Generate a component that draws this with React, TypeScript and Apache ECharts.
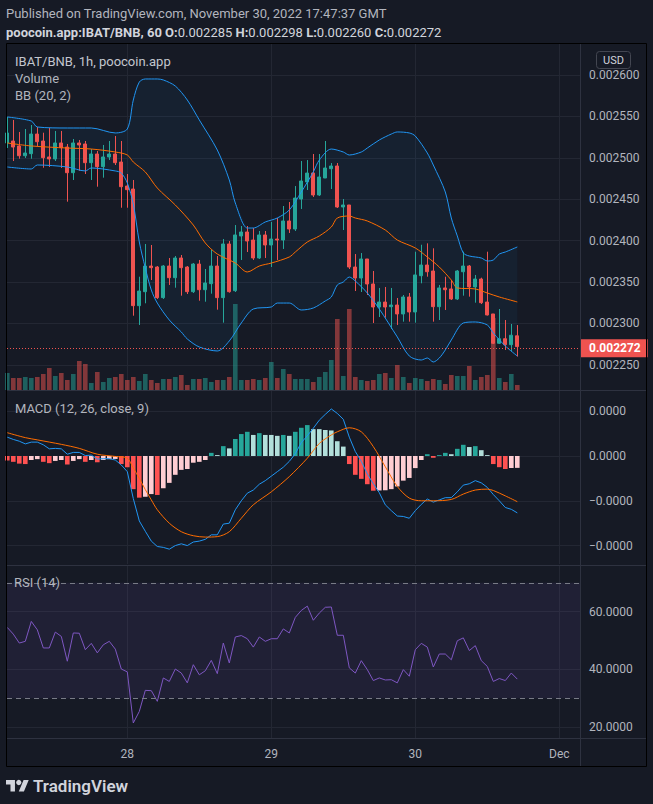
import React, { useEffect, useRef } from "react";
import * as echarts from "echarts";

// x = hours since Nov 27 00:00; the first candle is Nov 27 04:00 (1h candles)
const START_HOUR = 4;
const dayTicks = [24, 48, 72, 96];
const dayLabels = ["28", "29", "30", "Dec"];

// IBAT/BNB prices, in units of 0.001 BNB
const open = [2.5179, 2.5203, 2.5143, 2.5025, 2.505, 2.5287, 2.5203, 2.501, 2.4986, 2.5179,
  2.513, 2.482, 2.5179, 2.5167, 2.4941, 2.5046, 2.4893, 2.501, 2.5046, 2.4949,
  2.4659, 2.4623, 2.3214, 2.3383, 2.3693, 2.3681, 2.3311, 2.3693, 2.3552, 2.379,
  2.3681, 2.3383, 2.3717, 2.3407, 2.348, 2.3693, 2.3311, 2.3959, 2.3395, 2.4056,
  2.4104, 2.4007, 2.379, 2.4068, 2.3947, 2.4019, 2.4007, 2.4237, 2.414, 2.4502,
  2.4708, 2.4816, 2.4551, 2.4756, 2.4868, 2.4901, 2.4406, 2.443, 2.3681, 2.3548,
  2.3778, 2.3476, 2.3198, 2.3258, 2.3202, 2.3222, 2.3114, 2.3319, 2.3138, 2.3576,
  2.3705, 2.3633, 2.3202, 2.3428, 2.3416, 2.3295, 2.3624, 2.3693, 2.344, 2.3536,
  2.3258, 2.3114, 2.276, 2.2815, 2.2743, 2.285];
const high = [2.5493, 2.5457, 2.5312, 2.5348, 2.5396, 2.5372, 2.5303, 2.536, 2.5324, 2.5324,
  2.5167, 2.5227, 2.5215, 2.5203, 2.5106, 2.5082, 2.5155, 2.5203, 2.5263, 2.5203,
  2.4804, 2.4732, 2.3564, 2.3959, 2.3947, 2.3693, 2.3705, 2.379, 2.3814, 2.3826,
  2.3693, 2.3729, 2.3766, 2.3657, 2.3887, 2.3814, 2.4019, 2.3995, 2.4188, 2.4176,
  2.4176, 2.4152, 2.4116, 2.4116, 2.4225, 2.4273, 2.4418, 2.4466, 2.4659, 2.4961,
  2.4973, 2.5046, 2.5046, 2.5203, 2.4937, 2.4937, 2.4502, 2.443, 2.3838, 2.385,
  2.3778, 2.3633, 2.3428, 2.344, 2.3428, 2.3307, 2.3343, 2.3367, 2.3866, 2.395,
  2.3967, 2.3907, 2.3464, 2.3564, 2.3524, 2.3645, 2.3866, 2.3705, 2.3585, 2.3552,
  2.3866, 2.3114, 2.3174, 2.3041, 2.2993, 2.298];
const low = [2.5118, 2.4961, 2.4989, 2.4998, 2.4989, 2.5143, 2.488, 2.4889, 2.4961, 2.4877,
  2.447, 2.4732, 2.4844, 2.4804, 2.4732, 2.4651, 2.476, 2.4973, 2.4913, 2.4397,
  2.4397, 2.3093, 2.2981, 2.3243, 2.3524, 2.3295, 2.3295, 2.3464, 2.3431, 2.3335,
  2.3355, 2.3367, 2.3274, 2.3262, 2.3359, 2.3166, 2.3009, 2.3371, 2.3379, 2.3766,
  2.3862, 2.3766, 2.3778, 2.379, 2.3681, 2.3766, 2.3899, 2.4092, 2.4116, 2.4382,
  2.4611, 2.4527, 2.4539, 2.4756, 2.4623, 2.4394, 2.4128, 2.3657, 2.3391, 2.3379,
  2.3343, 2.3005, 2.3077, 2.3069, 2.2932, 2.2981, 2.3021, 2.3021, 2.3009, 2.3484,
  2.3564, 2.3021, 2.3041, 2.3162, 2.3283, 2.3283, 2.3335, 2.3323, 2.325, 2.3234,
  2.3096, 2.2751, 2.2751, 2.2679, 2.2667, 2.26];
const close = [2.53, 2.513, 2.5025, 2.5058, 2.5287, 2.5194, 2.5001, 2.4986, 2.5179, 2.5122,
  2.482, 2.5179, 2.5155, 2.4941, 2.5046, 2.4893, 2.501, 2.5046, 2.4941, 2.4651,
  2.4615, 2.3214, 2.3391, 2.3693, 2.3673, 2.3311, 2.3693, 2.3552, 2.379, 2.3673,
  2.3383, 2.3717, 2.3407, 2.3488, 2.3693, 2.3311, 2.3959, 2.3383, 2.4068, 2.4104,
  2.3995, 2.379, 2.4068, 2.3947, 2.4019, 2.4007, 2.4237, 2.414, 2.4514, 2.472,
  2.4816, 2.4551, 2.4768, 2.4877, 2.4901, 2.4406, 2.443, 2.3681, 2.3548, 2.3778,
  2.3476, 2.3198, 2.3258, 2.3198, 2.3222, 2.3114, 2.3319, 2.3138, 2.3585, 2.3705,
  2.3624, 2.3202, 2.3428, 2.3407, 2.3295, 2.3633, 2.3693, 2.344, 2.3536, 2.325,
  2.3102, 2.276, 2.2815, 2.2743, 2.2857, 2.272];

// volume, relative units
const volume = [17, 12, 12, 13, 12, 13, 16, 22, 14, 17, 10, 16, 29, 26, 7, 18, 8, 12, 13, 16,
  10, 13, 9, 16, 10, 7, 11, 11, 13, 15, 5, 11, 11, 12, 8, 10, 10, 13, 86, 10,
  10, 11, 10, 12, 28, 12, 21, 16, 11, 11, 11, 8, 13, 18, 30, 71, 14, 81, 13, 10,
  9, 10, 16, 17, 12, 25, 13, 7, 12, 11, 9, 11, 10, 6, 15, 14, 14, 24, 10, 13,
  15, 72, 12, 8, 16, 5];

// Bollinger bands (20, 2): [candle index, price ×0.001]
const bbUpper: [number, number][] = [[0, 2.5493], [4, 2.5444], [5, 2.5372], [10, 2.536], [14, 2.536], [18, 2.53], [20, 2.5348],
  [21, 2.5698], [22, 2.5915], [23, 2.5952], [25, 2.5952], [26, 2.594], [28, 2.5867], [30, 2.5698], [32, 2.5457],
  [35, 2.5094], [37, 2.4732], [38, 2.4454], [40, 2.4152], [41, 2.4152], [43, 2.4225], [45, 2.4273], [47, 2.437],
  [49, 2.4587], [51, 2.4829], [52, 2.4973], [54, 2.5106], [56, 2.507], [57, 2.5034], [59, 2.507], [60, 2.5118],
  [62, 2.5215], [64, 2.5287], [65, 2.5312], [67, 2.53], [68, 2.5263], [70, 2.5058], [71, 2.4913], [73, 2.4587],
  [74, 2.4273], [75, 2.4056], [76, 2.385], [77, 2.3814], [79, 2.379], [80, 2.3754], [81, 2.3766], [82, 2.3838],
  [83, 2.3862], [85, 2.3923]];
const bbBasis: [number, number][] = [[0, 2.5179], [4, 2.5143], [10, 2.5118], [14, 2.5106], [18, 2.507], [20, 2.5034],
  [21, 2.4949], [23, 2.4829], [25, 2.4635], [28, 2.443], [31, 2.4188], [33, 2.3971], [35, 2.3838], [38, 2.3729],
  [40, 2.3621], [42, 2.3693], [44, 2.3729], [47, 2.3802], [48, 2.3862], [50, 2.3983], [52, 2.4056], [54, 2.4164],
  [55, 2.4273], [57, 2.4297], [58, 2.4273], [60, 2.4237], [63, 2.4128], [65, 2.4007], [68, 2.3911], [70, 2.3802],
  [72, 2.3681], [74, 2.3524], [75, 2.3428], [78, 2.3416], [80, 2.3367], [82, 2.3319], [85, 2.3259]];
const bbLower: [number, number][] = [[0, 2.4889], [4, 2.4865], [5, 2.4913], [10, 2.4889], [13, 2.4841], [14, 2.4877],
  [18, 2.4841], [19, 2.4816], [20, 2.4696], [21, 2.4442], [22, 2.3983], [23, 2.3669], [24, 2.3403], [25, 2.3246],
  [27, 2.3041], [29, 2.2896], [30, 2.2812], [32, 2.2715], [35, 2.2667], [37, 2.2788], [39, 2.3005], [41, 2.3174],
  [44, 2.3198], [45, 2.3246], [47, 2.3246], [49, 2.3162], [51, 2.3186], [53, 2.3271], [54, 2.3319], [55, 2.3464],
  [56, 2.35], [57, 2.356], [58, 2.3512], [60, 2.3367], [62, 2.3174], [65, 2.2836], [67, 2.2606], [69, 2.2558],
  [70, 2.2582], [71, 2.2534], [72, 2.2582], [73, 2.2679], [74, 2.28], [76, 2.3005], [78, 2.3017], [80, 2.2981],
  [81, 2.2884], [83, 2.2727], [85, 2.2606]];

// MACD (12, 26, close, 9), in units of 1e-5
const macdLine = [0.42, 0.37, 0.33, 0.27, 0.31, 0.31, 0.25, 0.16, 0.17, 0.16,
  0.04, 0.08, 0.08, 0.01, 0.02, -0.07, -0.06, -0.06, -0.09, -0.2,
  -0.35, -0.95, -1.45, -1.68, -1.9, -2.02, -2.04, -2.08, -2.0, -1.96,
  -2.0, -1.92, -1.9, -1.86, -1.76, -1.76, -1.52, -1.5, -1.2, -1.0,
  -0.83, -0.76, -0.63, -0.55, -0.45, -0.35, -0.25, -0.12, 0.05, 0.3,
  0.45, 0.62, 0.8, 0.93, 1.05, 0.95, 0.82, 0.42, 0.1, -0.12,
  -0.4, -0.62, -0.82, -1.09, -1.22, -1.34, -1.35, -1.39, -1.22, -1.08,
  -0.96, -1.03, -0.98, -0.93, -0.93, -0.8, -0.65, -0.62, -0.55, -0.6,
  -0.7, -0.86, -1.0, -1.15, -1.19, -1.27];
const macdSignal: [number, number][] = [[0, 0.52], [3, 0.41], [5, 0.36], [9, 0.26], [12, 0.17], [15, 0.04], [18, -0.01],
  [20, -0.05], [21, -0.27], [22, -0.5], [23, -0.75], [24, -0.98], [25, -1.2], [27, -1.5], [29, -1.69], [31, -1.78],
  [33, -1.81], [35, -1.8], [37, -1.69], [39, -1.39], [41, -1.09], [44, -0.8], [47, -0.46], [50, -0.05], [52, 0.28],
  [54, 0.47], [55, 0.54], [57, 0.63], [59, 0.54], [61, 0.21], [63, -0.24], [65, -0.68], [67, -0.94], [69, -1.0],
  [71, -1.0], [74, -0.97], [76, -0.85], [78, -0.76], [80, -0.74], [81, -0.77], [83, -0.89], [85, -1.02]];
const macdHist = [-0.1, -0.13, -0.17, -0.18, -0.09, -0.07, -0.13, -0.16, -0.11, -0.09,
  -0.19, -0.11, -0.07, -0.13, -0.09, -0.14, -0.09, -0.07, -0.065, -0.18,
  -0.25, -0.74, -0.93, -0.91, -0.85, -0.87, -0.72, -0.6, -0.42, -0.31,
  -0.29, -0.15, -0.13, -0.09, 0.07, 0.02, 0.22, 0.17, 0.38, 0.49,
  0.54, 0.47, 0.51, 0.47, 0.47, 0.45, 0.47, 0.45, 0.54, 0.63,
  0.69, 0.6, 0.6, 0.58, 0.57, 0.33, 0.21, -0.18, -0.42, -0.51,
  -0.63, -0.775, -0.77, -0.765, -0.74, -0.68, -0.55, -0.49, -0.27, -0.09,
  0.04, -0.04, 0.02, 0.07, 0.04, 0.16, 0.25, 0.2, 0.22, 0.13,
  0.02, -0.18, -0.25, -0.29, -0.27, -0.265];

// RSI (14)
const rsi = [54.5, 52.2, 49.1, 49.7, 56.6, 53.7, 47.4, 47.4, 52.9, 51.4,
  42.8, 52.6, 52.5, 46.8, 49.0, 45.7, 48.5, 49.7, 47.0, 40.1,
  39.1, 21.4, 25.4, 32.7, 32.6, 28.9, 37.0, 35.8, 40.1, 38.7,
  35.3, 41.6, 38.1, 39.5, 43.1, 38.5, 49.1, 42.2, 51.2, 51.7,
  50.6, 47.7, 51.2, 49.7, 50.6, 50.6, 54.0, 52.6, 58.0, 60.4,
  61.9, 57.0, 59.5, 61.5, 61.6, 51.8, 51.8, 40.5, 38.7, 43.0,
  39.9, 36.1, 37.0, 36.3, 36.4, 35.3, 39.9, 37.6, 46.8, 49.0,
  47.7, 40.8, 45.3, 45.3, 43.3, 49.9, 50.9, 46.5, 48.2, 43.0,
  41.0, 35.8, 36.8, 36.1, 38.7, 36.6];

const UP = "#26A69A";
const DOWN = "#EF5350";
const BLUE = "#2196F3";
const ORANGE = "#FF6D00";
const BG = "#161A25";
const GRID_LINE = "#232733";
const SEP = "#2E3240";
const LABEL = "#B2B5BE";
const FONT = "Roboto, 'Noto Sans', sans-serif";

const X_MIN = 3.95;
const X_MAX = 99.45;

const fmtPrice = (v: number) => (v / 1000).toFixed(6);

function xAxis(gridIndex: number, showLabels: boolean) {
  return {
    type: "value",
    gridIndex,
    min: X_MIN,
    max: X_MAX,
    minInterval: 24,
    maxInterval: 24,
    axisLine: { show: false },
    axisTick: { show: false },
    axisLabel: {
      show: showLabels,
      showMinLabel: false,
      showMaxLabel: false,
      color: LABEL,
      fontSize: 12,
      fontFamily: FONT,
      margin: 10,
      formatter: (v: number) => {
        const i = dayTicks.indexOf(Math.round(v));
        return i >= 0 ? dayLabels[i] : "";
      },
    },
    splitLine: { show: gridIndex !== 1, showMinLine: false, showMaxLine: false, lineStyle: { color: GRID_LINE, width: 1 } },
  };
}

function yAxis(gridIndex: number, min: number, max: number, step: number, fmt: (v: number) => string) {
  return {
    type: "value",
    gridIndex,
    position: "right",
    min,
    max,
    minInterval: step,
    maxInterval: step,
    axisLine: { show: false },
    axisTick: { show: false },
    axisLabel: {
      showMinLabel: false,
      showMaxLabel: false,
      color: LABEL,
      fontSize: 12,
      fontFamily: FONT,
      margin: 9,
      align: "left",
      formatter: fmt,
    },
    splitLine: { show: true, showMinLine: false, showMaxLine: false, lineStyle: { color: GRID_LINE, width: 1 } },
  };
}

function histColor(i: number) {
  const v = macdHist[i];
  const p = i > 0 ? macdHist[i - 1] : v;
  if (v >= 0) return p < v ? "#26A69A" : "#B2DFDB";
  return p < v ? "#FFCDD2" : "#FF5252";
}

function text(t: string, x: number, y: number, size: number, color: string, extra: any = {}) {
  return {
    type: "text",
    z: 100,
    silent: true,
    style: { text: t, x, y, fill: color, fontSize: size, fontFamily: FONT, verticalAlign: "middle", ...extra },
  };
}

function buildOption() {
  const last = open.length - 1;
  const hx = (k: number) => k + START_HOUR;
  const ohlcLine =
    "{b|poocoin.app:IBAT/BNB, 60} " +
    "{b|O:}{n|" + fmtPrice(open[last]) + "} " +
    "{b|H:}{n|" + fmtPrice(high[last]) + "} " +
    "{b|L:}{n|" + fmtPrice(low[last]) + "} " +
    "{b|C:}{n|" + fmtPrice(close[last]) + "}";

  const graphic: any[] = [
    { type: "rect", z: 100, silent: true, shape: { x: 6.5, y: 43.5, width: 640, height: 723 }, style: { fill: "none", stroke: "#000000", lineWidth: 1 } },
    { type: "line", z: 100, silent: true, shape: { x1: 7, y1: 390.5, x2: 646, y2: 390.5 }, style: { stroke: SEP, lineWidth: 1 } },
    { type: "line", z: 100, silent: true, shape: { x1: 7, y1: 565.5, x2: 646, y2: 565.5 }, style: { stroke: SEP, lineWidth: 1 } },
    { type: "line", z: 100, silent: true, shape: { x1: 7, y1: 738.5, x2: 646, y2: 738.5 }, style: { stroke: SEP, lineWidth: 1 } },
    { type: "line", z: 100, silent: true, shape: { x1: 580.5, y1: 44, x2: 580.5, y2: 766 }, style: { stroke: SEP, lineWidth: 1 } },
    text("Published on TradingView.com, November 30, 2022 17:47:37 GMT", 6, 13, 13, LABEL),
    {
      type: "text",
      z: 100,
      silent: true,
      style: {
        text: ohlcLine,
        x: 6,
        y: 32,
        fill: "#D1D4DC",
        fontSize: 13,
        fontFamily: FONT,
        verticalAlign: "middle",
        rich: {
          b: { fontWeight: "bold", fontSize: 13, fontFamily: FONT, fill: "#D1D4DC" },
          n: { fontSize: 13, fontFamily: FONT, fill: "#D1D4DC" },
        },
      },
    },
    text("IBAT/BNB, 1h, poocoin.app", 15, 61, 13, "#C3C6CE"),
    text("Volume", 15, 78, 13, LABEL),
    text("BB (20, 2)", 15, 95, 13, LABEL),
    text("MACD (12, 26, close, 9)", 15, 408, 13, LABEL),
    text("RSI (14)", 14, 582, 13, LABEL),
    { type: "rect", z: 100, silent: true, shape: { x: 596.5, y: 51.5, width: 34, height: 17, r: 3 }, style: { fill: "none", stroke: "#434651", lineWidth: 1 } },
    text("USD", 613.5, 60, 11, "#D1D4DC", { align: "center" }),
    { type: "tvlogo", z: 100, silent: true, x: 6, y: 777.4, scaleX: 0.64, scaleY: 0.64, style: { fill: "#D1D4DC" } },
    { type: "circle", z: 100, silent: true, shape: { cx: 18.8, cy: 782.5, r: 2.6 }, style: { fill: "#D1D4DC" } },
    text("TradingView", 33, 786, 17, "#D1D4DC", { fontWeight: 600 }),
  ];

  return {
    animation: false,
    backgroundColor: BG,
    graphic,
    grid: [
      { left: 7, top: 44, width: 573, height: 346 },
      { left: 7, top: 44, width: 573, height: 346 },
      { left: 7, top: 391, width: 573, height: 173 },
      { left: 7, top: 566, width: 573, height: 172 },
    ],
    xAxis: [xAxis(0, false), { ...xAxis(1, false), show: false }, xAxis(2, false), xAxis(3, true)],
    yAxis: [
      yAxis(0, 2.21957, 2.63744, 0.05, fmtPrice),
      { type: "value", gridIndex: 1, min: 0, max: 346, show: false, splitLine: { show: false } },
      yAxis(2, -2.411, 1.451, 1, (v: number) => (v * 1e-5).toFixed(4).replace("-", "\u2212")),
      yAxis(3, 16.19, 75.81, 20, (v: number) => v.toFixed(4)),
    ],
    series: [
      {
        type: "bar",
        name: "Volume",
        xAxisIndex: 1,
        yAxisIndex: 1,
        barWidth: 4.6,
        silent: true,
        data: volume.map((v, i) => ({
          value: [hx(i), v],
          itemStyle: { color: close[i] >= open[i] ? "rgba(38,166,154,0.5)" : "rgba(239,83,80,0.5)" },
        })),
      },
      {
        type: "custom",
        name: "BB fill",
        xAxisIndex: 0,
        yAxisIndex: 0,
        silent: true,
        z: 1,
        data: [[hx(0), bbBasis[0][1]]],
        renderItem: (_p: any, api: any) => {
          const pts: number[][] = bbUpper.map(([k, v]) => api.coord([hx(k), v]));
          for (let i = bbLower.length - 1; i >= 0; i--) pts.push(api.coord([hx(bbLower[i][0]), bbLower[i][1]]));
          return { type: "polygon", shape: { points: pts }, style: { fill: "rgba(33,150,243,0.06)" } };
        },
      },
      {
        type: "line", name: "BB upper", xAxisIndex: 0, yAxisIndex: 0, showSymbol: false, smooth: 0.3, silent: true,
        lineStyle: { color: BLUE, width: 1 }, data: bbUpper.map(([k, v]) => [hx(k), v]),
      },
      {
        type: "line", name: "BB basis", xAxisIndex: 0, yAxisIndex: 0, showSymbol: false, smooth: 0.3, silent: true,
        lineStyle: { color: ORANGE, width: 1 }, data: bbBasis.map(([k, v]) => [hx(k), v]),
      },
      {
        type: "line", name: "BB lower", xAxisIndex: 0, yAxisIndex: 0, showSymbol: false, smooth: 0.3, silent: true,
        lineStyle: { color: BLUE, width: 1 }, data: bbLower.map(([k, v]) => [hx(k), v]),
      },
      {
        type: "candlestick",
        name: "IBAT/BNB",
        xAxisIndex: 0,
        yAxisIndex: 0,
        barWidth: 3.8,
        silent: true,
        encode: { x: 0, y: [1, 2, 3, 4] },
        data: open.map((o, i) => [hx(i), o, close[i], low[i], high[i]]),
        itemStyle: { color: UP, color0: DOWN, borderColor: UP, borderColor0: DOWN, borderWidth: 1 },
        markLine: {
          silent: true,
          symbol: ["none", "none"],
          animation: false,
          lineStyle: { color: DOWN, type: [1, 2], width: 1 },
          label: {
            show: true,
            position: "end",
            distance: 0,
            formatter: () => fmtPrice(close[last]),
            backgroundColor: DOWN,
            color: "#FFFFFF",
            fontWeight: "bold",
            fontSize: 12,
            fontFamily: FONT,
            padding: [3, 7, 3, 9],
          },
          data: [{ yAxis: close[last] }],
        },
      },
      {
        type: "bar",
        name: "Histogram",
        xAxisIndex: 2,
        yAxisIndex: 2,
        barWidth: 4.6,
        silent: true,
        data: macdHist.map((v, i) => ({ value: [hx(i), v], itemStyle: { color: histColor(i) } })),
      },
      {
        type: "line", name: "MACD", xAxisIndex: 2, yAxisIndex: 2, showSymbol: false, silent: true,
        lineStyle: { color: BLUE, width: 1 }, data: macdLine.map((v, i) => [hx(i), v]),
      },
      {
        type: "line", name: "Signal", xAxisIndex: 2, yAxisIndex: 2, showSymbol: false, smooth: 0.3, silent: true,
        lineStyle: { color: ORANGE, width: 1 }, data: macdSignal.map(([k, v]) => [hx(k), v]),
      },
      {
        type: "line",
        name: "RSI",
        xAxisIndex: 3,
        yAxisIndex: 3,
        showSymbol: false,
        silent: true,
        lineStyle: { color: "#7E57C2", width: 1 },
        data: rsi.map((v, i) => [hx(i), v]),
        markArea: {
          silent: true,
          itemStyle: { color: "rgba(126,87,194,0.1)" },
          data: [[{ yAxis: 30 }, { yAxis: 70 }]],
        },
        markLine: {
          silent: true,
          symbol: ["none", "none"],
          label: { show: false },
          lineStyle: { color: "#787B86", type: [5, 4], width: 1 },
          data: [{ yAxis: 70 }, { yAxis: 30 }],
        },
      },
    ],
  };
}

export default function App() {
  const ref = useRef<HTMLDivElement>(null);
  useEffect(() => {
    const el = ref.current;
    if (!el) return;
    echarts.graphic.registerShape(
      "tvlogo",
      echarts.graphic.extendPath("M14 22H7V11H0V4h14v18zM28 22h-8l7.5-18h8L28 22z", {})
    );
    const chart = echarts.init(el, null, { renderer: "svg" });
    chart.setOption(buildOption() as any);
    return () => chart.dispose();
  }, []);
  return (
    <div
      ref={ref}
      style={{ position: "fixed", left: 0, top: 0, width: 653, height: 804, background: BG }}
    />
  );
}
